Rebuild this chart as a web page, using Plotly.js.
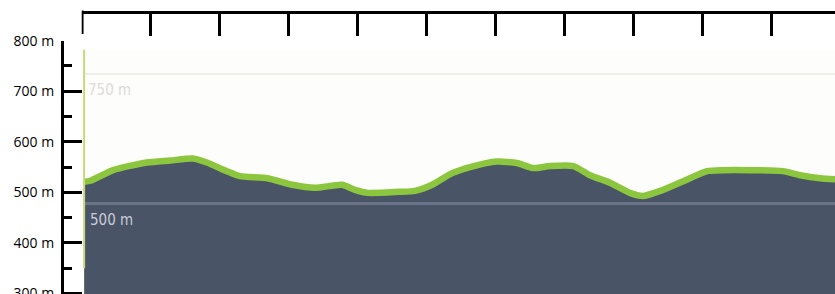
<!DOCTYPE html>
<html>
<head>
<meta charset="utf-8">
<script src="https://cdn.plot.ly/plotly-3.0.1.min.js"></script>
<style>
html,body{margin:0;padding:0;overflow:hidden;background:#fff;}
#chart{width:835px;height:300px;}
</style>
</head>
<body>
<div id="chart"></div>
<script>
// Distance along route (km) and elevation (m)
const distanceKm = [0.03, 0.12, 0.45, 0.94, 1.28, 1.61, 1.81, 2.10, 2.29, 2.69, 3.05, 3.38, 3.77, 3.96, 4.15, 4.59, 4.83, 5.08, 5.37, 5.63, 6.02, 6.31, 6.55, 6.79, 7.13, 7.37, 7.66, 7.95, 8.14, 8.39, 8.72, 9.07, 9.30, 9.70, 10.17, 10.42, 10.71, 10.93];
const elevationM = [521, 523, 544, 559, 563, 567, 559, 542, 532, 528, 515, 509, 515, 505, 499, 501, 503, 515, 538, 550, 561, 558, 548, 552, 552, 534, 519, 499, 493, 503, 522, 542, 544, 544, 542, 534, 528, 526];
// Reference levels drawn inside the embedded profile picture
const refLevelsM = [734, 478];
const refLabels = ["750 m", "500 m"];
const refLabelY = [702, 445];
const yTicks = [300, 400, 500, 600, 700, 800];

const trace = {
  x: distanceKm,
  y: elevationM,
  type: 'scatter',
  mode: 'lines',
  line: {color: '#8cc63f', width: 6.5, shape: 'spline', smoothing: 0.6},
  fill: 'tozeroy',
  fillcolor: '#4a5467',
  hoverinfo: 'skip'
};

const layout = {
  width: 835,
  height: 300,
  margin: {l: 62, r: 0, t: 12, b: 0, pad: 0},
  paper_bgcolor: '#ffffff',
  plot_bgcolor: 'rgba(0,0,0,0)',
  showlegend: false,
  xaxis: {
    domain: [0.0255, 1],
    range: [-0.005, 10.925],
    side: 'top',
    anchor: 'free',
    position: 1,
    showline: true,
    linecolor: '#000',
    linewidth: 3,
    ticks: 'inside',
    ticklen: 22,
    tickwidth: 3,
    tickcolor: '#000',
    dtick: 1,
    tick0: 0,
    showticklabels: false,
    showgrid: false,
    zeroline: false
  },
  yaxis: {
    domain: [0, 0.9003],
    range: [287.1, 800],
    anchor: 'free',
    position: 0,
    showline: true,
    linecolor: '#000',
    linewidth: 3,
    ticks: 'inside',
    ticklen: 18,
    tickwidth: 3,
    tickcolor: '#000',
    tickmode: 'array',
    tickvals: yTicks,
    ticktext: yTicks.map(v => v + ' m'),
    tickfont: {family: 'Open Sans, sans-serif', size: 14, color: '#000'},
    ticklabelstandoff: 4,
    ticklabeloverflow: 'allow',
    minor: {dtick: 50, tick0: 0, ticks: 'inside', ticklen: 8, tickwidth: 3, tickcolor: '#000'},
    showgrid: false,
    zeroline: false
  },
  shapes: [
    {type: 'rect', xref: 'x', yref: 'y', x0: 0.03, x1: 10.925, y0: 287.1, y1: 782, fillcolor: '#fdfdfb', line: {width: 0}, layer: 'below'},
    {type: 'line', xref: 'x', yref: 'y', x0: 0.03, x1: 10.925, y0: refLevelsM[0], y1: refLevelsM[0], line: {color: '#f0f0e8', width: 2}, layer: 'below'},
    {type: 'line', xref: 'x', yref: 'y', x0: 0.03, x1: 10.925, y0: refLevelsM[1], y1: refLevelsM[1], line: {color: '#6b7487', width: 3}, layer: 'above'},
    {type: 'line', xref: 'x', yref: 'y', x0: 0.03, x1: 0.03, y0: 350, y1: 782, line: {color: '#c8d87a', width: 2}, layer: 'above'},
    // corner tick of the top axis at distance 0
    {type: 'line', xref: 'x', yref: 'paper', x0: 0, x1: 0, y0: 1.005, y1: 1 - 22 / 288, line: {color: '#000', width: 3}, layer: 'above'}
  ],
  annotations: [
    {xref: 'x', yref: 'y', x: 0.06, y: refLabelY[0], xanchor: 'left', yanchor: 'middle', text: refLabels[0], showarrow: false, font: {family: 'Liberation Sans Narrow, DejaVu Sans Condensed, sans-serif', size: 15, color: '#dcdcd8'}},
    {xref: 'x', yref: 'y', x: 0.08, y: refLabelY[1], xanchor: 'left', yanchor: 'middle', text: refLabels[1], showarrow: false, font: {family: 'Liberation Sans Narrow, DejaVu Sans Condensed, sans-serif', size: 15, color: '#c9cbd8'}}
  ]
};

Plotly.newPlot('chart', [trace], layout, {staticPlot: true, displayModeBar: false});
</script>
</body>
</html>
